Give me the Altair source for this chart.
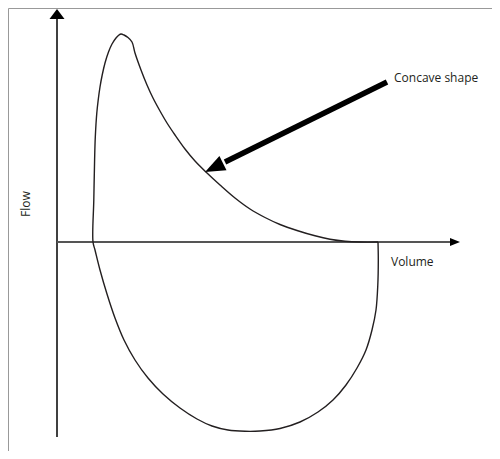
import altair as alt
import pandas as pd

# Flow-volume loop (volume in L, flow in L/s).
# Starts at the end of expiration, runs through inspiration (below zero),
# then expiration (above zero) back to the same point.
loop_volume = [6.42, 6.426, 6.416, 6.38, 6.30, 6.18, 6.00, 5.78, 5.52, 5.22, 4.86, 4.46,
               4.06, 3.76, 3.42, 3.10, 2.80, 2.46, 2.12, 1.82, 1.56, 1.34, 1.16, 1.00,
               0.86, 0.76, 0.72,
               0.736, 0.752, 0.766, 0.796, 0.824, 0.86, 0.904, 0.96, 1.03, 1.10, 1.18,
               1.24, 1.28, 1.34, 1.42, 1.50,
               1.56, 1.68, 1.80, 1.92, 2.06, 2.20, 2.36, 2.56, 2.76, 3.00, 3.26, 3.56,
               3.86, 4.16, 4.46, 4.80, 5.16, 5.46, 5.76, 6.06, 6.42]
loop_flow = [0.00, -0.72, -1.72, -2.72, -3.52, -4.32, -5.04, -5.72, -6.32, -6.80, -7.20, -7.46,
             -7.56, -7.57, -7.52, -7.36, -7.08, -6.64, -6.08, -5.44, -4.72, -3.92, -3.04, -2.08,
             -1.12, -0.32, 0.00,
             1.68, 3.28, 4.20, 5.16, 5.68, 6.20, 6.68, 7.16, 7.60, 7.92, 8.16,
             8.28, 8.32, 8.28, 8.18, 8.00,
             7.56, 6.88, 6.28, 5.76, 5.24, 4.76, 4.28, 3.72, 3.24, 2.76, 2.28, 1.76,
             1.32, 0.98, 0.70, 0.46, 0.248, 0.112, 0.032, 0.00, 0.00]

# axis lines
yaxis_vol = [0.0, 0.0]
yaxis_flow = [-7.8, 8.92]
xaxis_vol = [0.0, 7.86]
xaxis_flow = [0.0, 0.0]

# arrowheads: volume, flow, angle
head_vol = [0.0, 7.96]
head_flow = [9.12, 0.0]
head_angle = [270, 0]

# annotation arrow
annot_vol = [6.60, 3.36]
annot_flow = [6.40, 3.20]
annot_head_vol = [3.14]
annot_head_flow = [2.976]
annot_head_angle = [153.7]

# labels
label_text = ["Concave shape", "Volume"]
label_vol = [6.74, 6.68]
label_flow = [6.56, -0.80]
flow_label_vol = [-0.62]
flow_label_flow = [1.52]

XDOM = [-0.98, 8.70]
YDOM = [-8.36, 9.36]
INK = "#231f20"
FONT = "Open Sans"

xs = alt.Scale(domain=XDOM, nice=False, zero=False)
ys = alt.Scale(domain=YDOM, nice=False, zero=False)

loop_df = pd.DataFrame({"v": loop_volume, "f": loop_flow, "i": list(range(len(loop_volume)))})
yaxis_df = pd.DataFrame({"v": yaxis_vol, "f": yaxis_flow, "i": [0, 1]})
xaxis_df = pd.DataFrame({"v": xaxis_vol, "f": xaxis_flow, "i": [0, 1]})
annot_df = pd.DataFrame({"v": annot_vol, "f": annot_flow, "i": [0, 1]})


def X():
    return alt.X("v:Q", scale=xs, axis=None)


def Y():
    return alt.Y("f:Q", scale=ys, axis=None)


yaxis = alt.Chart(yaxis_df).mark_line(color="#000000", strokeWidth=1.5).encode(
    x=X(), y=Y(), order="i:Q")
xaxis = alt.Chart(xaxis_df).mark_line(color="#555555", strokeWidth=2).encode(
    x=X(), y=Y(), order="i:Q")

yhead = alt.Chart(pd.DataFrame({"v": [head_vol[0]], "f": [head_flow[0]], "a": [head_angle[0]]})).mark_point(
    shape="M0.67,0L-0.67,-1L-0.67,1Z", filled=True, color="#000000", opacity=1, size=225
).encode(x=X(), y=Y(), angle=alt.Angle("a:Q", scale=None))
xhead = alt.Chart(pd.DataFrame({"v": [head_vol[1]], "f": [head_flow[1]], "a": [head_angle[1]]})).mark_point(
    shape="M1,0L-1,-0.8L-1,0.8Z", filled=True, color="#000000", opacity=1, size=100
).encode(x=X(), y=Y(), angle=alt.Angle("a:Q", scale=None))

loop = alt.Chart(loop_df).mark_line(
    color=INK, strokeWidth=1.4, interpolate="catmull-rom", strokeJoin="round"
).encode(x=X(), y=Y(), order="i:Q")

annot = alt.Chart(annot_df).mark_line(color="#000000", strokeWidth=5.5, strokeCap="butt").encode(
    x=X(), y=Y(), order="i:Q")
annot_head = alt.Chart(pd.DataFrame({"v": annot_head_vol, "f": annot_head_flow, "a": annot_head_angle})).mark_point(
    shape="M1,0L-1,-0.8L-1,0.8Z", filled=True, color="#000000", opacity=1, size=400
).encode(x=X(), y=Y(), angle=alt.Angle("a:Q", scale=None))

labels = alt.Chart(pd.DataFrame({"t": label_text, "v": label_vol, "f": label_flow})).mark_text(
    align="left", baseline="middle", font=FONT, fontSize=12, color=INK
).encode(x=X(), y=Y(), text="t:N")

flow_label = alt.Chart(pd.DataFrame({"t": ["Flow"], "v": flow_label_vol, "f": flow_label_flow})).mark_text(
    align="center", baseline="middle", font=FONT, fontSize=12, color=INK, angle=270
).encode(x=X(), y=Y(), text="t:N")

chart = alt.layer(
    yaxis, xaxis, yhead, xhead, loop, annot, annot_head, labels, flow_label
).properties(
    width=484, height=443, padding=0, background="white"
).configure_view(stroke="#999999", strokeWidth=1)

chart.save("out.html", embed_options={"renderer": "svg", "actions": False})
